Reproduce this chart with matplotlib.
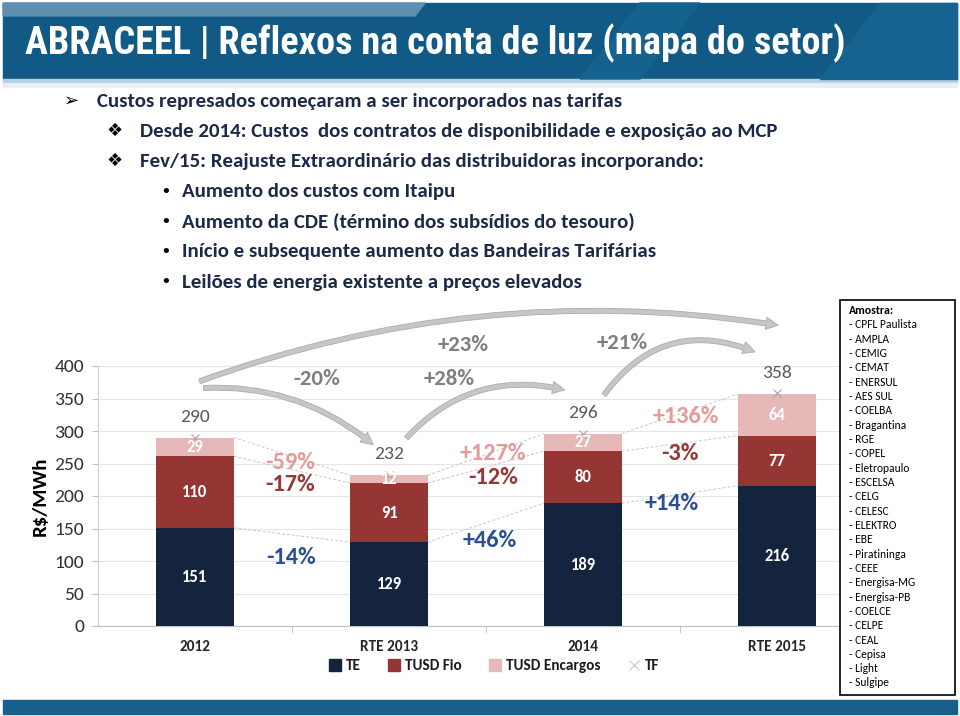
import numpy as np
import matplotlib.pyplot as plt
from matplotlib import font_manager
from matplotlib.patches import Rectangle, Polygon, FancyArrowPatch
from matplotlib.lines import Line2D

# chart data (R$/MWh)
categories = ['2012', 'RTE 2013', '2014', 'RTE 2015']
te = [151, 129, 189, 216]
tusd_fio = [110, 91, 80, 77]
tusd_enc = [29, 12, 27, 64]
tf = [290, 232, 296, 358]

# variations between consecutive bars
chg_te = ['-14%', '+46%', '+14%']
chg_fio = ['-17%', '-12%', '-3%']
chg_enc = ['-59%', '+127%', '+136%']
chg_tf = ['-20%', '+28%', '+21%']
chg_tf_total = '+23%'

amostra = ['CPFL Paulista', 'AMPLA', 'CEMIG', 'CEMAT', 'ENERSUL', 'AES SUL',
           'COELBA', 'Bragantina', 'RGE', 'COPEL', 'Eletropaulo', 'ESCELSA',
           'CELG', 'CELESC', 'ELEKTRO', 'EBE', 'Piratininga', 'CEEE',
           'Energisa-MG', 'Energisa-PB', 'COELCE', 'CELPE', 'CEAL', 'Cepisa',
           'Light', 'Sulgipe']

title = 'ABRACEEL | Reflexos na conta de luz (mapa do setor)'
bullets = [
    (0, 'Custos represados começaram a ser incorporados nas tarifas'),
    (1, 'Desde 2014: Custos  dos contratos de disponibilidade e exposição ao MCP'),
    (1, 'Fev/15: Reajuste Extraordinário das distribuidoras incorporando:'),
    (2, 'Aumento dos custos com Itaipu'),
    (2, 'Aumento da CDE (término dos subsídios do tesouro)'),
    (2, 'Início e subsequente aumento das Bandeiras Tarifárias'),
    (2, 'Leilões de energia existente a preços elevados'),
]

c_te = '#14243f'
c_fio = '#963634'
c_enc = '#e6b8b7'
c_tf = '#a6a6a6'
c_pct_enc = '#e39c9b'
c_pct_fio = '#953735'
c_pct_te = '#2b5090'
txt_dark = '#1c2a48'

avail = {f.name for f in font_manager.fontManager.ttflist}


def pick(*names):
    for n in names:
        if n in avail:
            return n
    return 'DejaVu Sans'


TITLE_FONT = pick('Liberation Sans Narrow', 'Arial Narrow', 'Roboto Condensed',
                  'DejaVu Sans Condensed', 'Liberation Sans')
BODY_FONT = pick('Carlito', 'Lato', 'Open Sans')
plt.rcParams['font.family'] = [BODY_FONT, 'DejaVu Sans']

W, H = 960, 716
fig = plt.figure(figsize=(W / 100, H / 100), dpi=100)
renderer = fig.canvas.get_renderer()


def fit_width(t, max_px):
    bb = t.get_window_extent(renderer)
    if bb.width > max_px:
        t.set_fontsize(t.get_fontsize() * max_px / bb.width)


# ---- slide background / header ----
bg = fig.add_axes([0, 0, 1, 1])
bg.set_xlim(0, W)
bg.set_ylim(H, 0)
bg.axis('off')

bg.add_patch(Rectangle((3, 3), 954, 76, color='#115a86', zorder=1))
bg.add_patch(Polygon([(3, 3), (425, 3), (415, 16), (3, 16)], color='#5d8fb1', zorder=2))
bg.add_patch(Polygon([(640, 3), (700, 3), (640, 79), (580, 79)], color='#16628e', zorder=1.5))
bg.add_patch(Polygon([(880, 3), (957, 3), (957, 79), (820, 79)], color='#17638f', zorder=1.5))
bg.add_patch(Rectangle((3, 79), 954, 4, color='#b5d0e0', zorder=1))
bg.add_patch(Rectangle((3, 83), 954, 4, color='#e6f0f6', zorder=1))
bg.add_patch(Rectangle((3, 700), 954, 14, color='#17608c', zorder=1))

t = bg.text(25, 43, title, color='white', fontsize=28, fontweight='bold',
            family=[TITLE_FONT, 'DejaVu Sans'], va='center', zorder=3)
fit_width(t, 820)

marks = {0: ('➢', 64, 97), 1: ('❖', 107, 140), 2: ('•', 160, 182)}
for k, (lvl, line) in enumerate(bullets):
    sym, xs, xt = marks[lvl]
    y = 101 + k * 30.2
    bg.text(xs, y, sym, fontsize=13, color='black', family=['DejaVu Sans'],
            va='center')
    bt = bg.text(xt, y, line, fontsize=15, fontweight='bold', color=txt_dark,
                 va='center')
    fit_width(bt, 645)

# ---- chart ----
ax = fig.add_axes([98 / W, (H - 626) / H, 776 / W, 260 / H])
x = np.arange(len(categories))
w = 0.4
te_a, fio_a, enc_a = np.array(te), np.array(tusd_fio), np.array(tusd_enc)
ax.bar(x, te_a, w, color=c_te, zorder=3)
ax.bar(x, fio_a, w, bottom=te_a, color=c_fio, zorder=3)
ax.bar(x, enc_a, w, bottom=te_a + fio_a, color=c_enc, zorder=3)
ax.plot(x, tf, ls='none', marker='x', ms=6, mew=0.8, color=c_tf, zorder=4)

for i in range(len(categories)):
    ax.text(x[i], te_a[i] / 2, str(te[i]), color='white', fontsize=12,
            fontweight='bold', ha='center', va='center', zorder=5)
    ax.text(x[i], te_a[i] + fio_a[i] / 2, str(tusd_fio[i]), color='white',
            fontsize=12, fontweight='bold', ha='center', va='center', zorder=5)
    ax.text(x[i], te_a[i] + fio_a[i] + enc_a[i] / 2, str(tusd_enc[i]),
            color='white', fontsize=12, fontweight='bold', ha='center',
            va='center', zorder=5)
    ax.text(x[i], tf[i] + 32, str(tf[i]), color='#595959', fontsize=14,
            ha='center', va='center', zorder=5)

# dotted connectors between the bars
levels = [te_a, te_a + fio_a, te_a + fio_a + enc_a]
for lv in levels:
    for i in range(len(categories) - 1):
        ax.plot([x[i] + w / 2, x[i + 1] - w / 2], [lv[i], lv[i + 1]],
                ls=(0, (3, 2)), lw=0.7, color='#c8c8c8', zorder=2)

# variation labels (positions in data units)
pos_enc = [(0.49, 252), (1.535, 266), (2.53, 323)]
pos_fio = [(0.49, 218), (1.535, 229), (2.5, 266)]
pos_te = [(0.495, 106), (1.52, 132), (2.46, 189)]
for labels, pos, col in [(chg_enc, pos_enc, c_pct_enc),
                         (chg_fio, pos_fio, c_pct_fio),
                         (chg_te, pos_te, c_pct_te)]:
    for lab, (px, py) in zip(labels, pos):
        ax.text(px, py, lab, color=col, fontsize=17.5, fontweight='bold',
                ha='center', va='center', zorder=5)

# curved gray arrows for total tariff
arrows = [((0.03, 366), (0.93, 276), -0.2, chg_tf[0], (0.63, 380)),
          ((1.08, 286), (1.92, 362), -0.3, chg_tf[1], (1.31, 380)),
          ((2.10, 352), (2.90, 420), -0.4, chg_tf[2], (2.20, 435)),
          ((0.01, 375), (3.02, 462), -0.13, chg_tf_total, (1.38, 433))]
for pa, pb, rad, lab, lp in arrows:
    arr = FancyArrowPatch(pa, pb, connectionstyle=f'arc3,rad={rad}',
                          arrowstyle='simple,head_width=1.1,head_length=1.1,tail_width=0.45',
                          mutation_scale=8, fc='#c6c6c6', ec='#acacac', lw=0.6,
                          transform=ax.transData, zorder=6)
    arr.set_clip_on(False)
    ax.add_patch(arr)
    ax.text(lp[0], lp[1], lab, color='#7f7f7f', fontsize=16.5, fontweight='bold',
            ha='center', va='center', zorder=6)

ax.set_xlim(-0.5, 3.5)
ax.set_ylim(0, 400)
ax.set_yticks(np.arange(0, 401, 50))
ax.tick_params(axis='y', labelsize=14, labelcolor='#333333', color='#bfbfbf',
               length=4, pad=6)
ax.set_xticks(x)
ax.set_xticklabels(categories, fontsize=11, fontweight='bold', color='#262626')
ax.set_xticks([0.5, 1.5, 2.5], minor=True)
ax.tick_params(axis='x', which='major', length=0, pad=10)
ax.tick_params(axis='x', which='minor', length=5, color='#bfbfbf')
ax.grid(axis='y', color='#e6e6e6', lw=0.8, zorder=0)
for s in ['top', 'right']:
    ax.spines[s].set_visible(False)
ax.spines['left'].set_color('#d0d0d0')
ax.spines['bottom'].set_color('#bfbfbf')
ax.set_ylabel('R$/MWh', fontsize=15, fontweight='bold', color='black', labelpad=4)
ax.patch.set_alpha(0)

handles = [Line2D([], [], ls='none', marker='s', ms=8, color=c_te),
           Line2D([], [], ls='none', marker='s', ms=8, color=c_fio),
           Line2D([], [], ls='none', marker='s', ms=8, color=c_enc),
           Line2D([], [], ls='none', marker='x', ms=7, mew=0.8, color='#c8c8c8')]
fig.legend(handles, ['TE', 'TUSD Fio', 'TUSD Encargos', 'TF'], ncol=4,
           loc='center', bbox_to_anchor=(494 / W, 1 - 666 / H), frameon=False,
           prop={'size': 11, 'weight': 'bold'}, handlelength=0.8,
           handletextpad=0.3, columnspacing=1.8, labelcolor='#1a1a1a')

# ---- sample box ----
ov = fig.add_axes([0, 0, 1, 1])
ov.set_xlim(0, W)
ov.set_ylim(H, 0)
ov.axis('off')
ov.add_patch(Rectangle((840, 300), 115, 395, fc='white', ec='black', lw=1.2))
ov.text(849, 311, 'Amostra:', fontsize=8.5, fontweight='bold', va='center')
for k, name in enumerate(amostra):
    ov.text(849, 325 + k * 14.32, '- ' + name, fontsize=8.3, va='center')

fig.savefig('out.png', dpi=100)
